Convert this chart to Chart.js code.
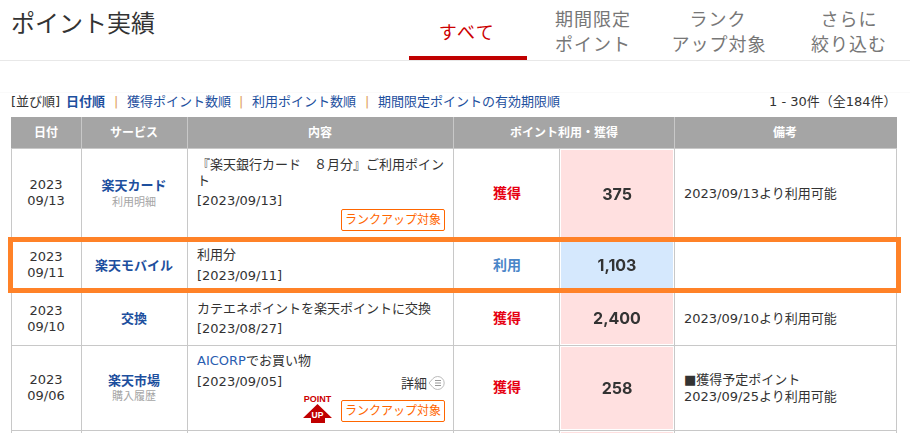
<!DOCTYPE html>
<html lang="ja">
<head>
<meta charset="utf-8">
<title>ポイント実績</title>
<script src="https://cdn.jsdelivr.net/npm/chart.js@4"></script>
<style>
  html, body { margin: 0; padding: 0; background: #fff; }
  body { position: relative; width: 910px; height: 433px; overflow: hidden; color: #333;
         font-family: "DejaVu Sans", "Noto Sans CJK JP", sans-serif; font-size: 13px; }
  .t { position: absolute; white-space: nowrap; transform: translateY(-50%); line-height: 1; }
  .c { transform: translate(-50%, -50%); }
  .r { position: absolute; }
  .head { color: #fff; font-weight: bold; font-size: 12px; }
  .svc { color: #1d4f9e; font-weight: bold; }
  .sub { color: #a5a5a5; font-size: 11px; }
  .tab { color: #777; font-size: 18px; letter-spacing: 1px; font-family: "Noto Sans CJK JP", sans-serif; }
  .link { color: #1d4f9e; }
  .sep { color: #e0a060; }
  .badge { position: absolute; box-sizing: border-box; left: 341px; width: 104px; height: 22px; border: 1px solid #f60;
           border-radius: 2px; color: #f60; font-size: 12px; text-align: center; line-height: 20px; white-space: nowrap; background: #fff; }
  #box { position: absolute; left: 8px; top: 237px; width: 893px; height: 56px; box-sizing: border-box; border: 5px solid #ff8228; }
  svg { position: absolute; }
</style>
</head>
<body>
<script>
// table data
const columnHeads = ['日付', 'サービス', '内容', 'ポイント利用・獲得', '備考']
const years = ['2023', '2023', '2023', '2023']
const dates = ['09/13', '09/11', '09/10', '09/06']
const services = ['楽天カード', '楽天モバイル', '交換', '楽天市場']
const serviceNotes = ['利用明細', '', '', '購入履歴']
const detailLines = [
  ['『楽天銀行カード　８月分』ご利用ポイン', 'ト'],
  ['利用分'],
  ['カテエネポイントを楽天ポイントに交換'],
  ['AICORPでお買い物']
]
const detailDates = ['[2023/09/13]', '[2023/09/11]', '[2023/08/27]', '[2023/09/05]']
const pointTypes = ['獲得', '利用', '獲得', '獲得']
const pointValues = [375, 1103, 2400, 258]
const remarks = [['2023/09/13より利用可能'], [], ['2023/09/10より利用可能'], ['■獲得予定ポイント', '2023/09/25より利用可能']]
const sortLinks = ['獲得ポイント数順', '利用ポイント数順', '期間限定ポイントの有効期限順']

// layout of the page around the charts
const colLines = [11, 81, 187, 453, 559, 674, 896]
const rowLines = [149, 239, 291, 345, 430]

function text(str, x, y, cls, css) {
  const el = document.createElement('div')
  el.className = 't ' + (cls || '')
  el.textContent = str
  el.style.left = x + 'px'
  el.style.top = y + 'px'
  if (css) el.style.cssText += css
  document.body.appendChild(el)
  return el
}

function rect(x, y, w, h, color) {
  const el = document.createElement('div')
  el.className = 'r'
  el.style.cssText = `left:${x}px;top:${y}px;width:${w}px;height:${h}px;background:${color}`
  document.body.appendChild(el)
}

function badge(y) {
  const el = document.createElement('div')
  el.className = 'badge'
  el.style.top = y + 'px'
  el.textContent = 'ランクアップ対象'
  document.body.appendChild(el)
}

// title and tabs
text('ポイント実績', 11, 22, '', 'font-size:24px;font-family:"Noto Sans CJK JP";color:#333')
text('すべて', 467, 31, 'c', 'font-size:18px;color:#c00;letter-spacing:1.5px;font-family:"Noto Sans CJK JP"')
text('期間限定', 593, 18, 'tab c')
text('ポイント', 593, 43, 'tab c')
text('ランク', 718, 18, 'tab c')
text('アップ対象', 719, 43, 'tab c')
text('さらに', 849, 18, 'tab c')
text('絞り込む', 849, 43, 'tab c')
rect(0, 60, 910, 1, '#e8e8e8')
rect(409, 56, 118, 4, '#c00000')
rect(0, 92, 910, 1, '#fafafa')

// sort row
text('[並び順]', 11, 101)
text('日付順', 66, 101, 'link', 'font-weight:bold')
const sortX = [127, 252, 378]
sortLinks.forEach((s, i) => {
  text('|', sortX[i] - 13, 101, 'sep')
  text(s, sortX[i], 101, 'link')
})
text('1 - 30件（全184件）', 769, 101)

// table head and grid
rect(11, 117, 886, 32, '#a5a5a5')
rect(11, 148, 886, 1, '#c8c8c8')
const headX = [46, 134, 320, 564, 785]
const headLines = [81, 187, 453, 674]
headLines.forEach(x => rect(x, 117, 1, 32, '#c8c8c8'))
columnHeads.forEach((h, i) => text(h, headX[i], 133, 'head c'))
colLines.forEach(x => rect(x, 149, 1, 284, '#c8c8c8'))
rowLines.slice(1).forEach(y => rect(11, y, 886, 1, '#c8c8c8'))

// row text
const dateY = [[184, 200], [256, 272], [310, 326], [379, 395]]
const serviceY = [[185, 202], [265], [318], [380, 396]]
const detailY = [[164, 180], [254], [308], [360]]
const detailDateY = [200, 275, 328, 381]
const typeY = [193, 265, 318, 387]
const remarkY = [[193], [], [318], [379, 396]]

years.forEach((year, i) => {
  text(year, 46, dateY[i][0], 'c')
  text(dates[i], 46, dateY[i][1], 'c')
  text(services[i], 134, serviceY[i][0], 'svc c')
  if (serviceNotes[i]) text(serviceNotes[i], 134, serviceY[i][1], 'sub c')
  detailLines[i].forEach((line, j) => {
    const el = text(line, 197, detailY[i][j])
    if (line.startsWith('AICORP')) {
      el.innerHTML = '<span style="color:#2a5db0">AICORP</span>でお買い物'
    }
  })
  text(detailDates[i], 197, detailDateY[i])
  text(pointTypes[i], 507, typeY[i], 'c',
    `font-weight:bold;font-size:14px;color:${pointTypes[i] === '獲得' ? '#e60012' : '#4a86c8'}`)
  remarks[i].forEach((line, j) => text(line, 684, remarkY[i][j]))
})

badge(209)
badge(400)
text('詳細', 401, 383)

// 詳細 icon and point up arrow
document.body.insertAdjacentHTML('beforeend', `
<svg style="left:428px;top:375px" width="18" height="16" viewBox="0 0 18 16">
  <path d="M1 8 L5 3.5 A6.5 6.5 0 1 1 5 12.5 Z" fill="#fff" stroke="#bbb"/>
  <path d="M7 5.5h6M7 8h6M7 10.5h6" stroke="#999" fill="none"/>
</svg>
<svg style="left:302px;top:394px" width="32" height="30" viewBox="0 0 32 30">
  <text x="15.5" y="8" text-anchor="middle" font-size="9" font-weight="bold" fill="#c00" font-family="Liberation Sans">POINT</text>
  <path d="M15.5 10 L30 24 L23 24 L23 29 L9 29 L9 24 L1 24 Z" fill="#c00000"/>
  <text x="15.5" y="24" text-anchor="middle" font-size="8.5" font-weight="bold" fill="#fff" font-family="Liberation Sans">UP</text>
</svg>`)

// value label inside each point cell
const cellLabel = {
  id: 'cellLabel',
  afterDatasetsDraw(chart) {
    const { ctx, chartArea } = chart
    ctx.save()
    ctx.font = 'bold 16px Inter'
    ctx.fillStyle = '#333'
    ctx.textAlign = 'center'
    ctx.textBaseline = 'middle'
    ctx.fillText(chart.data.labels[0], (chartArea.left + chartArea.right) / 2, (chartArea.top + chartArea.bottom) / 2 + 1)
    ctx.restore()
  }
}

// point cells, each one is a full width bar
const cellTop = [150, 240, 292, 347]
const cellHeight = [88, 50, 52, 82]

pointValues.forEach((value, i) => {
  const wrap = document.createElement('div')
  wrap.style.cssText = `position:absolute;left:561px;top:${cellTop[i]}px;width:112px;height:${cellHeight[i]}px`
  const canvas = document.createElement('canvas')
  wrap.appendChild(canvas)
  document.body.appendChild(wrap)

  new Chart(canvas, {
    type: 'bar',
    plugins: [cellLabel],
    data: {
      labels: [value.toLocaleString('en-US')],
      datasets: [
        {
          data: [value],
          backgroundColor: pointTypes[i] === '獲得' ? '#ffe0e0' : '#d5e8fd',
          barPercentage: 1,
          categoryPercentage: 1
        }
      ]
    },
    options: {
      indexAxis: 'y',
      responsive: true,
      maintainAspectRatio: false,
      animation: false,
      plugins: {
        legend: { display: false },
        tooltip: { enabled: false }
      },
      scales: {
        x: { display: false, min: 0, max: value },
        y: { display: false }
      }
    }
  })
})

rect(561, 432, 112, 1, '#ffe0e0')

// highlight around the second row
const box = document.createElement('div')
box.id = 'box'
document.body.appendChild(box)
</script>
</body>
</html>
